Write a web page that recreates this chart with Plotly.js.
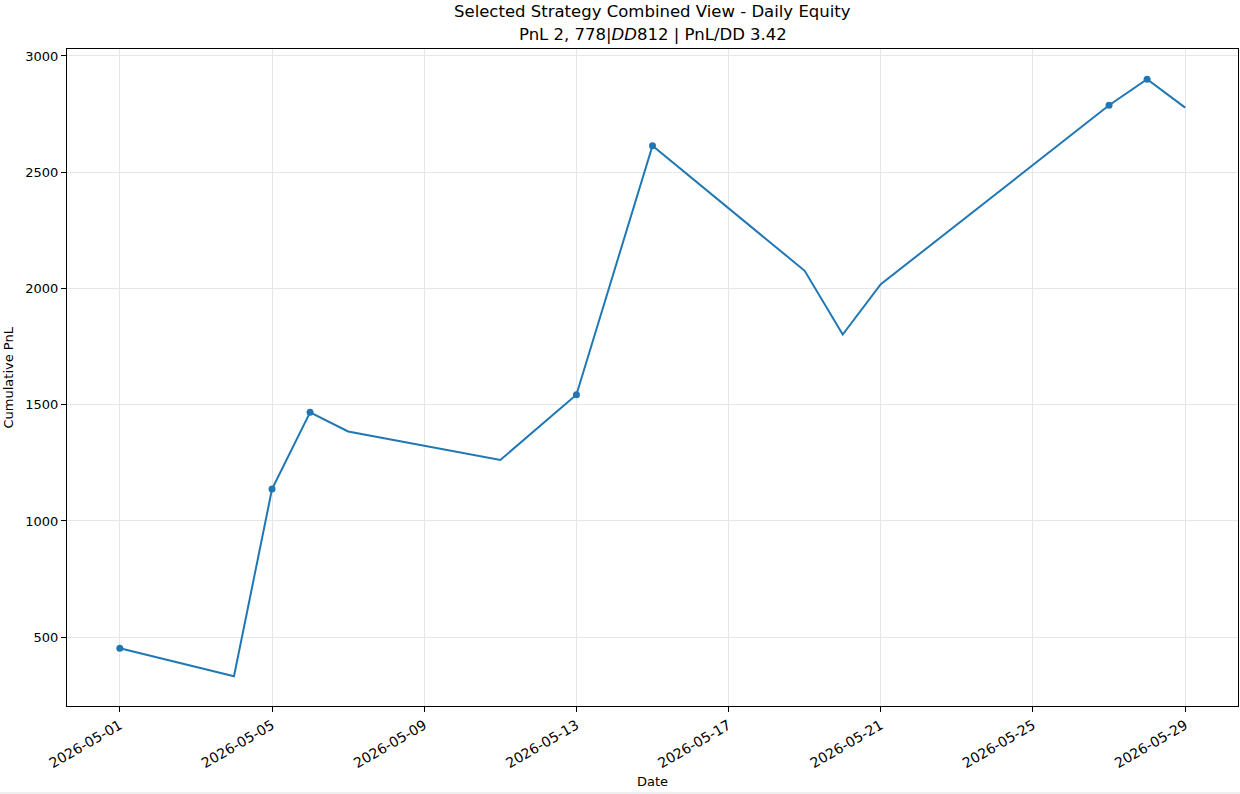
<!DOCTYPE html>
<html>
<head>
<meta charset="utf-8">
<script src="https://cdn.plot.ly/plotly-3.0.1.min.js"></script>
<style>
  html, body { margin: 0; padding: 0; background: #efefef; width: 1240px; height: 794px; overflow: hidden; }
  #chart { width: 1240px; height: 792px; background: #ffffff; }
</style>
</head>
<body>
<div id="chart"></div>
<script>
// Data
const dates = ["2026-05-01", "2026-05-04", "2026-05-05", "2026-05-06", "2026-05-07",
               "2026-05-11", "2026-05-13", "2026-05-15", "2026-05-19", "2026-05-20",
               "2026-05-21", "2026-05-27", "2026-05-28", "2026-05-29"];
const cumulativePnl = [452, 332, 1137, 1467, 1385, 1262, 1543, 2614, 2076, 1802, 2018, 2788, 2900, 2778];
const marked = [true, false, true, true, false, false, true, true, false, false, false, true, true, false];
const tickDates = ["2026-05-01", "2026-05-05", "2026-05-09", "2026-05-13", "2026-05-17",
                   "2026-05-21", "2026-05-25", "2026-05-29"];
const yTicks = [500, 1000, 1500, 2000, 2500, 3000];
const titleLine1 = "Selected Strategy Combined View - Daily Equity";
const titleLine2 = "PnL 2, 778|<i>DD</i>812 | PnL/DD 3.42";

const markerDates = dates.filter((d, i) => marked[i]);
const markerValues = cumulativePnl.filter((v, i) => marked[i]);

const blue = "#1f77b4";
const font = "DejaVu Sans, sans-serif";
const plotH = 657, plotW = 1171;

const traces = [
  {
    x: dates, y: cumulativePnl, type: "scatter", mode: "lines",
    line: { color: blue, width: 2 }, hoverinfo: "x+y", showlegend: false
  },
  {
    x: markerDates, y: markerValues, type: "scatter", mode: "markers",
    marker: { color: blue, size: 7 }, hoverinfo: "x+y", showlegend: false
  }
];

const layout = {
  width: 1240, height: 792,
  margin: { l: 67, r: 2, t: 49, b: 86 },
  paper_bgcolor: "#ffffff", plot_bgcolor: "#ffffff",
  font: { family: font, size: 13, color: "#000000" },
  xaxis: {
    type: "date",
    range: ["2026-04-29 14:40", "2026-05-30 09:20"],
    tickmode: "array", tickvals: tickDates, ticktext: tickDates,
    tickangle: -30,
    ticks: "outside", ticklen: 5, tickcolor: "#000000", tickwidth: 1,
    showgrid: true, gridcolor: "#e6e6e6", gridwidth: 1,
    showline: true, linecolor: "#000000", linewidth: 1, mirror: true,
    zeroline: false,
    tickfont: { family: font, size: 14, color: "#000000" },
    automargin: false
  },
  yaxis: {
    range: [204, 3030],
    tickmode: "array", tickvals: yTicks, ticktext: yTicks.map(String),
    ticks: "outside", ticklen: 5, tickcolor: "#000000", tickwidth: 1,
    showgrid: true, gridcolor: "#e6e6e6", gridwidth: 1,
    showline: true, linecolor: "#000000", linewidth: 1, mirror: true,
    zeroline: false,
    tickfont: { family: font, size: 13, color: "#000000" },
    automargin: false
  },
  annotations: [
    {
      text: titleLine1, xref: "paper", yref: "paper", x: 0.5, y: (706 - 12) / plotH,
      xanchor: "center", yanchor: "middle", showarrow: false,
      font: { family: font, size: 16.5, color: "#000000" }
    },
    {
      text: titleLine2, xref: "paper", yref: "paper", x: 0.5, y: (706 - 34) / plotH,
      xanchor: "center", yanchor: "middle", showarrow: false,
      font: { family: font, size: 16.5, color: "#000000" }
    },
    {
      text: "Date", xref: "paper", yref: "paper", x: 0.5, y: -75 / plotH,
      xanchor: "center", yanchor: "middle", showarrow: false,
      font: { family: font, size: 13, color: "#000000" }
    },
    {
      text: "Cumulative PnL", xref: "paper", yref: "paper", x: -59 / plotW, y: 0.5,
      xanchor: "center", yanchor: "middle", showarrow: false, textangle: -90,
      font: { family: font, size: 13, color: "#000000" }
    }
  ]
};

Plotly.newPlot("chart", traces, layout, { displayModeBar: false, staticPlot: true });
</script>
</body>
</html>
